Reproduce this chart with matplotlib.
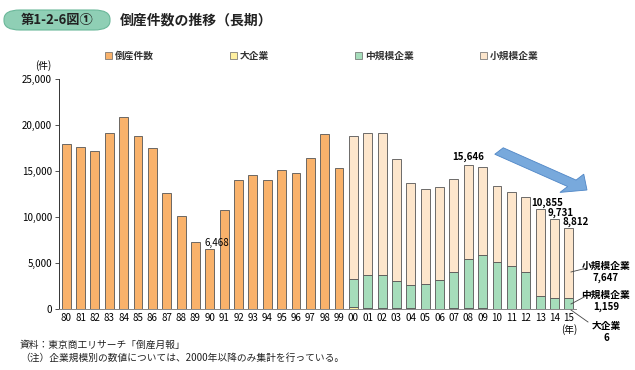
import matplotlib
matplotlib.use("Agg")
import matplotlib.pyplot as plt
from matplotlib.patches import FancyBboxPatch, FancyArrow
import numpy as np

plt.rcParams['font.family'] = ['Noto Sans CJK JP', 'DejaVu Sans']

years = ["80","81","82","83","84","85","86","87","88","89","90","91","92","93","94","95","96","97","98","99",
         "00","01","02","03","04","05","06","07","08","09","10","11","12","13","14","15"]
total = [17884,17610,17122,19155,20841,18812,17476,12655,10122,7234,6468,10723,14069,14564,14061,15108,14834,16464,18988,15352,
         18769,19164,19087,16255,13679,12998,13245,14091,15646,15480,13321,12734,12124,10855,9731,8812]
# breakdown from 2000 onward
large  = [170,140,150,100,60,40,50,60,130,90,40,30,20,15,10,6]
medium = [3060,3600,3590,2910,2590,2660,3145,3930,5350,5750,5070,4685,4040,1365,1225,1159]

c_total = "#F9B26B"
c_large = "#FFF0A0"
c_med = "#A6DDBB"
c_small = "#FDE6CC"
edge = "#555555"

fig = plt.figure(figsize=(6.35, 3.7), dpi=100)
ax = fig.add_axes([59/635, 1-309/370, (576-59)/635, 230/370])

x = np.arange(len(years))
w = 0.62
n_old = 20
ax.bar(x[:n_old], total[:n_old], width=w, color=c_total, edgecolor=edge, linewidth=0.6, zorder=2)
xn = x[n_old:]
tn = np.array(total[n_old:])
lg = np.array(large)
md = np.array(medium)
sm = tn - lg - md
ax.bar(xn, lg, width=w, color=c_large, edgecolor=edge, linewidth=0.6, zorder=2)
ax.bar(xn, md, width=w, bottom=lg, color=c_med, edgecolor=edge, linewidth=0.6, zorder=2)
ax.bar(xn, sm, width=w, bottom=lg+md, color=c_small, edgecolor=edge, linewidth=0.6, zorder=2)

ax.set_xlim(-0.5, len(years)-0.5)
ax.set_ylim(0, 25000)
ax.set_yticks(range(0, 25001, 5000))
ax.set_yticklabels([f"{v:,}" for v in range(0, 25001, 5000)])
ax.set_xticks(x)
ax.set_xticklabels(years)
ax.tick_params(axis='y', labelsize=7, length=3, width=0.6, color='#333333', pad=2)
ax.tick_params(axis='x', labelsize=7, length=0, pad=3)
for s in ['top', 'right']:
    ax.spines[s].set_visible(False)
ax.spines['left'].set_linewidth(0.7)
ax.spines['bottom'].set_linewidth(0.7)
ax.spines['left'].set_color('#333333')
ax.spines['bottom'].set_color('#888888')

# value labels
ax.text(10-0.35, 6468+150, "6,468", fontsize=7, ha='left', va='bottom')
ax.text(28, 15646+300, "15,646", fontsize=7, ha='center', va='bottom', fontweight='bold')
ax.text(33.5, 10855+150, "10,855", fontsize=7, ha='center', va='bottom', fontweight='bold')
ax.text(34.4, 9731+150, "9,731", fontsize=7, ha='center', va='bottom', fontweight='bold')
ax.text(35.5, 8812+150, "8,812", fontsize=7, ha='center', va='bottom', fontweight='bold')

# right-side labels
fig.text(606/635, 1-272/370, "小規模企業\n7,647", fontsize=7, ha='center', va='center', fontweight='bold', linespacing=1.2)
fig.text(606/635, 1-301/370, "中規模企業\n1,159", fontsize=7, ha='center', va='center', fontweight='bold', linespacing=1.2)
fig.text(606/635, 1-332/370, "大企業\n6", fontsize=7, ha='center', va='center', fontweight='bold', linespacing=1.2)
fig.add_artist(plt.Line2D([571/635, 587/635], [1-272/370, 1-268/370], color='#444444', lw=0.6))
fig.add_artist(plt.Line2D([571/635, 586/635], [1-304/370, 1-296/370], color='#444444', lw=0.6))
fig.add_artist(plt.Line2D([571/635, 588/635], [1-310/370, 1-322/370], color='#444444', lw=0.6))

fig.text(569/635, 1-330/370, "(年)", fontsize=7, ha='center', va='center')
fig.text(43/635, 1-66/370, "(件)", fontsize=7, ha='center', va='center')

# arrow
arr = FancyArrow(499/635, 1-151/370, 88/635, -39/370, width=0.022, head_width=0.062, head_length=0.03,
                 length_includes_head=True, transform=fig.transFigure, color='#78A9DC', ec='#4F86C6', lw=0.6)
fig.add_artist(arr)

# legend
legend_items = [("倒産件数", c_total, 105), ("大企業", c_large, 230), ("中規模企業", c_med, 355), ("小規模企業", c_small, 480)]
for lab, col, px in legend_items:
    fig.add_artist(FancyBboxPatch((px/635, 1-59/370), 7/635, 7/370, boxstyle="square,pad=0",
                                  transform=fig.transFigure, fc=col, ec='#666666', lw=0.5))
    fig.text((px+10)/635, 1-55.5/370, lab, fontsize=7, ha='left', va='center', fontweight='bold', color='#333333')

# title box
fig.add_artist(FancyBboxPatch((4/635, 1-30/370), 106/635, 20/370, boxstyle="round,pad=0,rounding_size=0.025",
                              transform=fig.transFigure, fc='#8FCFB5', ec='#6BB89A', lw=0.8))
fig.text(57/635, 1-20/370, "第1-2-6図①", fontsize=9.5, ha='center', va='center', fontweight='bold', color='#222222')
fig.text(120/635, 1-20/370, "倒産件数の推移（長期）", fontsize=10, ha='left', va='center', fontweight='bold', color='#222222')

# footnotes
fig.text(20/635, 1-345/370, "資料：東京商工リサーチ「倒産月報」", fontsize=7, ha='left', va='center', color='#222222')
fig.text(20/635, 1-358/370, "（注）企業規模別の数値については、2000年以降のみ集計を行っている。", fontsize=7, ha='left', va='center', color='#222222')

fig.savefig("out.png", dpi=100)
